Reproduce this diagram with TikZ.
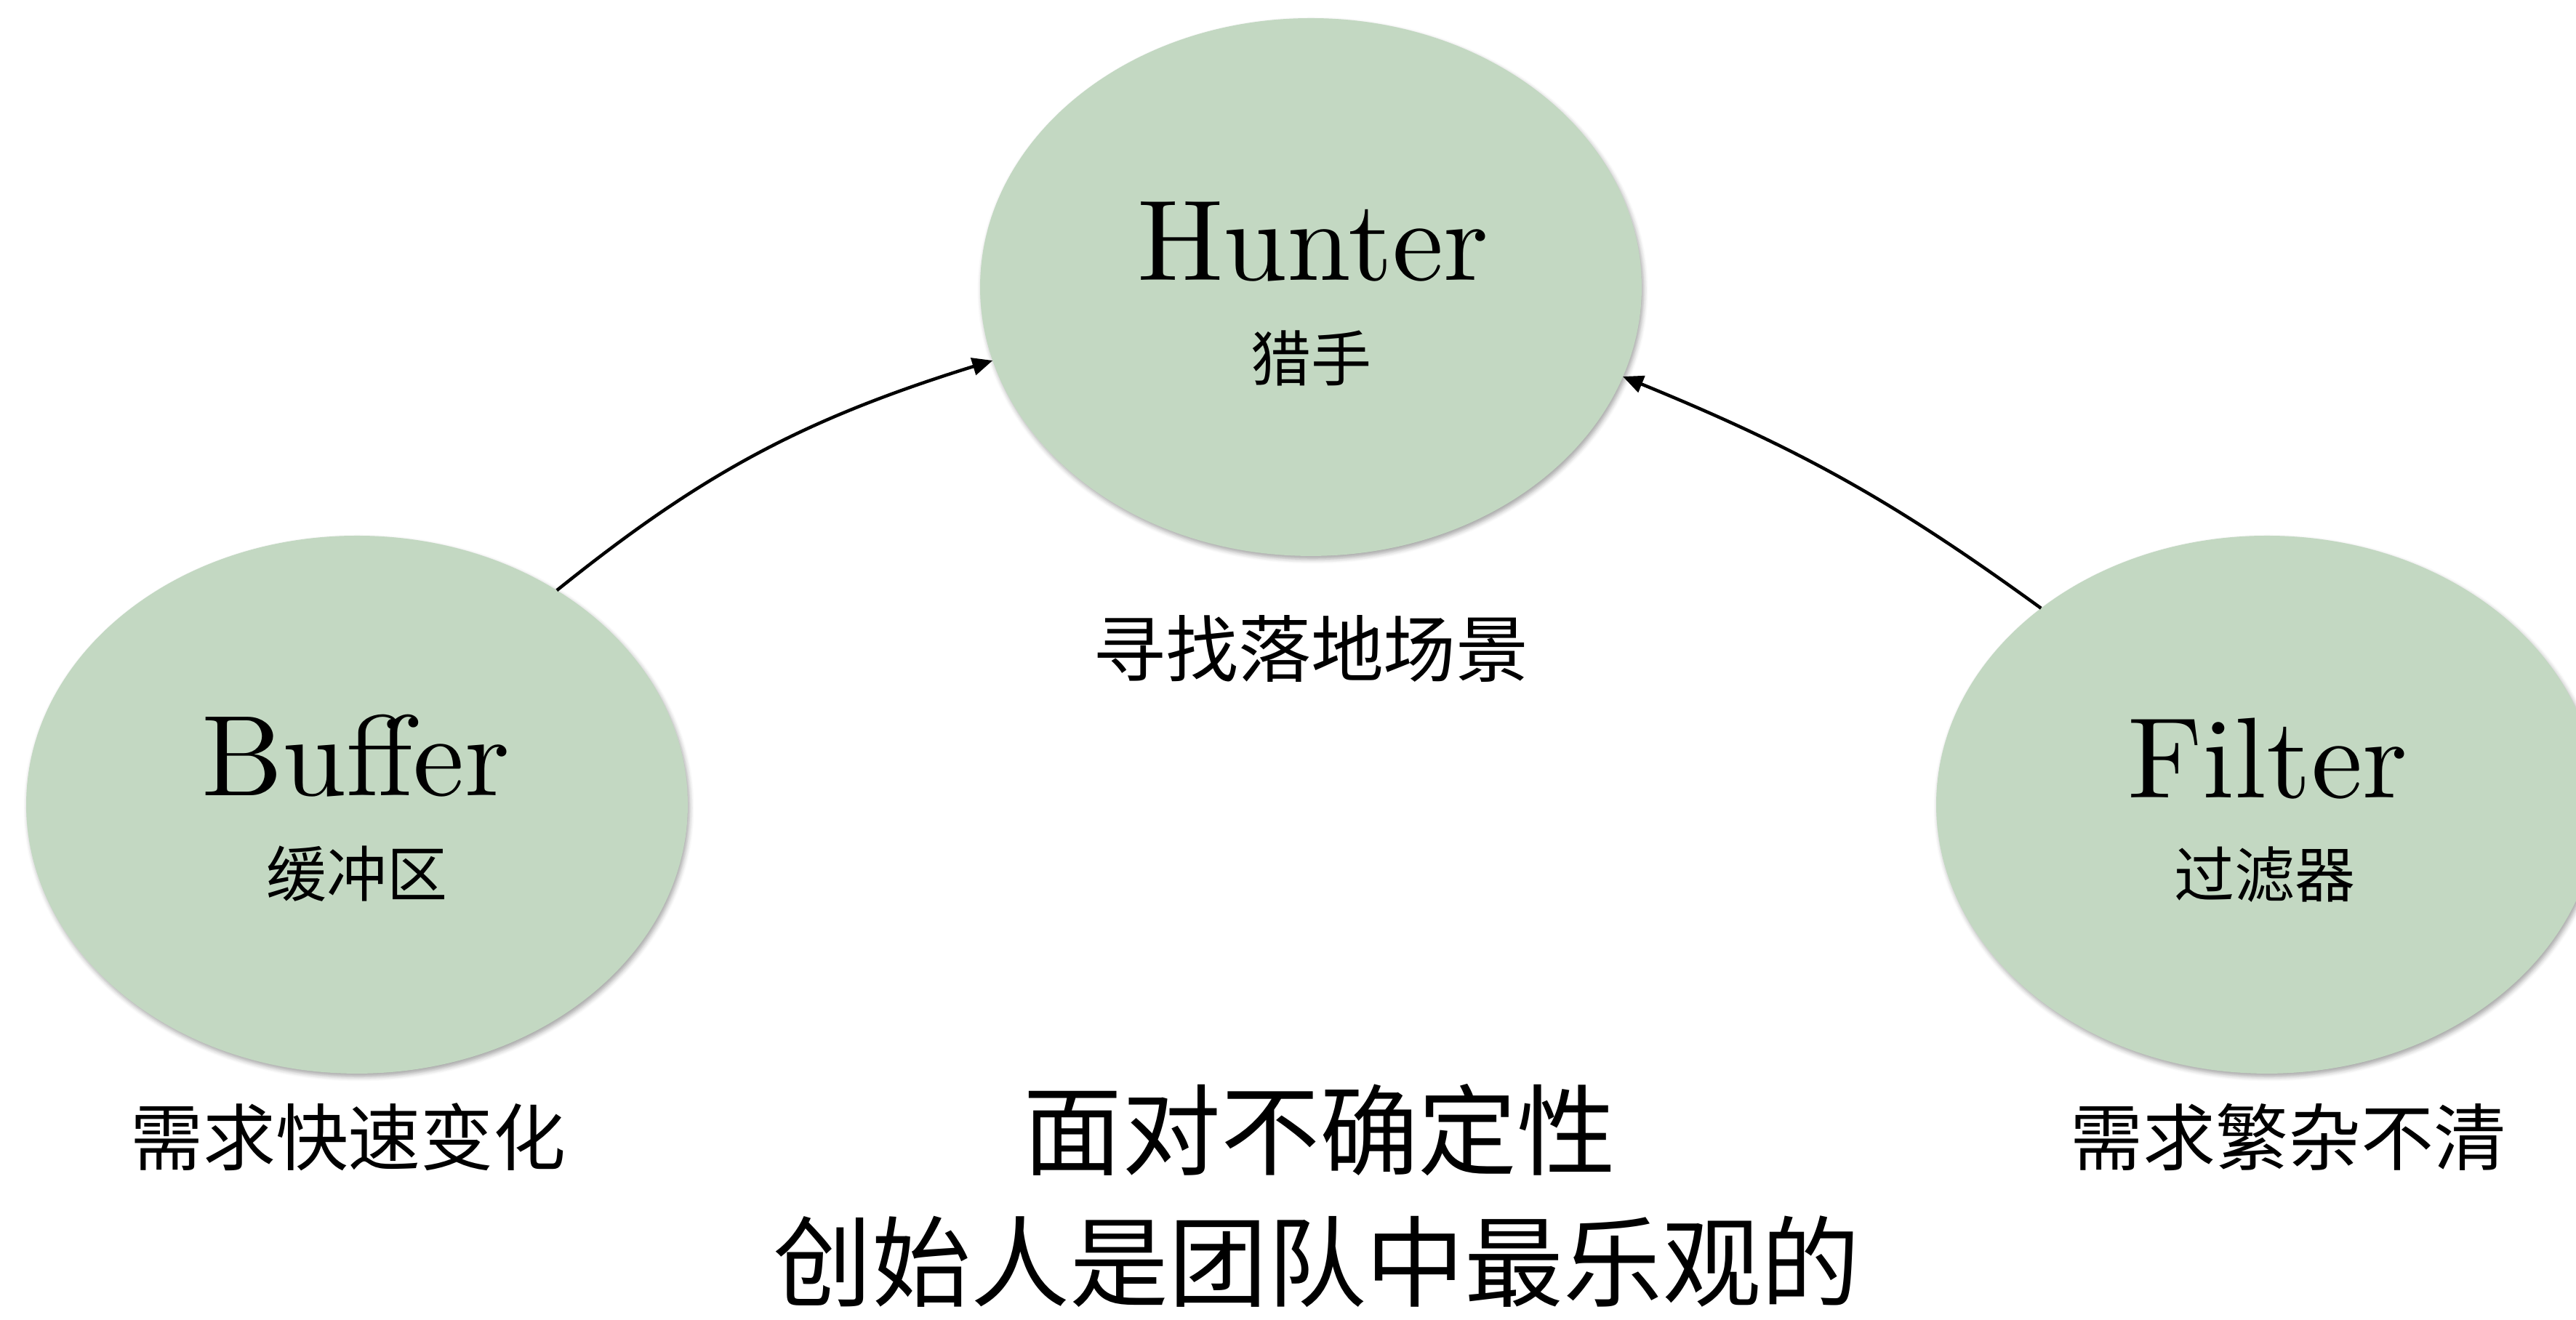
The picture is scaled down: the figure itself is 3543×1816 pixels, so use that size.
\documentclass[tikz,border=0pt]{standalone}
\usepackage{fontspec}
\newfontfamily\cjk{Noto Sans CJK SC}
\newfontfamily\lmten{lmroman10-regular}[Extension=.otf]
\usetikzlibrary{shapes.geometric,arrows.meta,shadows.blur,bending}
\definecolor{sage}{RGB}{195,216,194}
\tikzset{
  bubble/.style={ellipse, fill=sage, draw=none, inner sep=0pt, outer sep=0pt,
    minimum width=91pt, minimum height=74pt,
    blur shadow={shadow xshift=0.25pt, shadow yshift=-0.45pt, shadow blur radius=0.6pt, shadow opacity=35}},
  title/.style={inner sep=0pt, anchor=base, font=\lmten\fontsize{15.8pt}{18pt}\selectfont},
  subtitle/.style={inner sep=0pt, font=\cjk\fontsize{8.3pt}{10pt}\selectfont},
  label/.style={inner sep=0pt, font=\cjk\fontsize{10pt}{12pt}\selectfont},
  headline/.style={inner sep=0pt, font=\cjk\fontsize{13.6pt}{16pt}\selectfont},
  link/.style={line width=0.45pt, -{Triangle[length=2.8pt, width=2.4pt]}}
}
\begin{document}
\begin{tikzpicture}[x=0.1pt, y=0.1pt]
\useasboundingbox (0,0) rectangle (3543,1816);
\clip (0,0) rectangle (3543,1816);
% ellipses
\node[bubble] (hun) at (1803,1421) {};
\node[bubble] (buf) at (491,709) {};
\node[bubble] (fil) at (3118,709) {};
% texts inside
\node[title] (hunT) at (1806,1430) {Hunter};
\node[subtitle] (hunC) at (1803,1323) {猎手};
\node[title] (bufT) at (489,721) {Buffer};
\node[subtitle] (bufC) at (491,614) {缓冲区};
\node[title] (filT) at (3119,718) {Filter};
\node[subtitle] (filC) at (3115,613) {过滤器};
% labels
\node[label] (lblH) at (1803,923) {寻找落地场景};
\node[label] (lblB) at (479,252) {需求快速变化};
\node[label] (lblF) at (3147,252) {需求繁杂不清};
\node[headline] (main1) at (1815,261) {面对不确定性};
\node[headline] (main2) at (1811,80) {创始人是团队中最乐观的};
% connectors
\draw[link] (buf.47) to[bend left=11] (hun.193);
\draw[link] (fil.139) to[bend right=7] (hun.344);
\end{tikzpicture}
\end{document}
